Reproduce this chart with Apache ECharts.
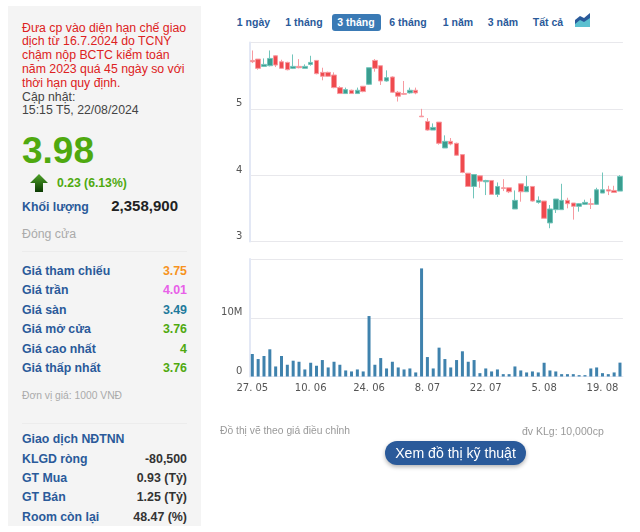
<!DOCTYPE html>
<html>

<head>
    <meta charset="utf-8">
    <script src="https://cdn.jsdelivr.net/npm/echarts@6/dist/echarts.min.js"></script>
    <style>
        html, body { margin: 0; padding: 0; background: #fff; }
        body { width: 640px; height: 532px; position: relative; overflow: hidden; font-family: "Liberation Sans", Arial, sans-serif; }
        #main { position: absolute; left: 0; top: 0; width: 640px; height: 532px; }
        #panel { position: absolute; left: 8px; top: 6px; width: 193px; height: 520px; background: #f4f4f4; }
        .t { position: absolute; white-space: nowrap; line-height: 14px; transform: translateY(-7px); }
        .lbl { left: 22px; font-size: 12.3px; font-weight: bold; color: #2a5a9a; }
        .val { right: 453px; font-size: 12.4px; font-weight: bold; }
        .red { left: 22px; font-size: 12.3px; color: #dd2222; }
        .gray { left: 22px; font-size: 12.3px; color: #444; }
        .tab { font-size: 10.5px; font-weight: bold; color: #2a5a9a; transform: translate(-50%, -7px); }
        .sep { position: absolute; left: 22px; width: 165px; height: 1px; background: #ececec; }
    </style>
</head>

<body>
    <div id="panel"></div>
    <div class="sep" style="top:251px"></div>
    <div class="sep" style="top:423px"></div>

    <div class="t red" style="top:28px">Đưa cp vào diện hạn chế giao</div>
    <div class="t red" style="top:41px">dịch từ 16.7.2024 do TCNY</div>
    <div class="t red" style="top:55px">chậm nộp BCTC kiểm toán</div>
    <div class="t red" style="top:69px">năm 2023 quá 45 ngày so với</div>
    <div class="t red" style="top:83px">thời hạn quy định.</div>
    <div class="t gray" style="top:97px">Cập nhật:</div>
    <div class="t gray" style="top:110px">15:15 T5, 22/08/2024</div>

    <div class="t" style="left:22px;top:151px;font-size:37px;font-weight:bold;color:#4fa90f">3.98</div>
    <svg style="position:absolute;left:30px;top:174px" width="18" height="18">
        <defs><linearGradient id="ag" x1="0" y1="0" x2="0" y2="1"><stop offset="0" stop-color="#4fa428"/><stop offset="1" stop-color="#0b3a02"/></linearGradient></defs>
        <polygon points="9,0 18,9 13,9 13,18 5,18 5,9 0,9" fill="url(#ag)"/>
    </svg>
    <div class="t" style="left:57px;top:183px;font-size:12.2px;font-weight:bold;color:#4fa90f">0.23 (6.13%)</div>
    <div class="t lbl" style="top:207px">Khối lượng</div>
    <div class="t val" style="top:206px;right:462px;font-size:15px;color:#222">2,358,900</div>
    <div class="t" style="left:22px;top:234px;font-size:12.3px;color:#aaa">Đóng cửa</div>

    <div class="t lbl" style="top:271px">Giá tham chiếu</div>
    <div class="t val" style="top:271px;color:#f7931e">3.75</div>
    <div class="t lbl" style="top:290px">Giá trần</div>
    <div class="t val" style="top:290px;color:#e860e8">4.01</div>
    <div class="t lbl" style="top:310px">Giá sàn</div>
    <div class="t val" style="top:310px;color:#1f7a9c">3.49</div>
    <div class="t lbl" style="top:329px">Giá mở cửa</div>
    <div class="t val" style="top:329px;color:#4fa90f">3.76</div>
    <div class="t lbl" style="top:349px">Giá cao nhất</div>
    <div class="t val" style="top:349px;color:#4fa90f">4</div>
    <div class="t lbl" style="top:368px">Giá thấp nhất</div>
    <div class="t val" style="top:368px;color:#4fa90f">3.76</div>
    <div class="t" style="left:22px;top:396px;font-size:10.3px;color:#aaa">Đơn vị giá: 1000 VNĐ</div>

    <div class="t lbl" style="top:439px">Giao dịch NĐTNN</div>
    <div class="t lbl" style="top:459px">KLGD ròng</div>
    <div class="t val" style="top:459px;color:#333">-80,500</div>
    <div class="t lbl" style="top:478px">GT Mua</div>
    <div class="t val" style="top:478px;color:#333">0.93 (Tỷ)</div>
    <div class="t lbl" style="top:497px">GT Bán</div>
    <div class="t val" style="top:497px;color:#333">1.25 (Tỷ)</div>
    <div class="t lbl" style="top:517px">Room còn lại</div>
    <div class="t val" style="top:517px;color:#333">48.47 (%)</div>

    <div style="position:absolute;left:332px;top:14px;width:49px;height:17px;border-radius:3px;background:#3a7ab5"></div>
    <div class="t tab" style="left:253.5px;top:22px">1 ngày</div>
    <div class="t tab" style="left:304px;top:22px">1 tháng</div>
    <div class="t tab" style="left:356px;top:22px;color:#fff">3 tháng</div>
    <div class="t tab" style="left:408px;top:22px">6 tháng</div>
    <div class="t tab" style="left:458px;top:22px">1 năm</div>
    <div class="t tab" style="left:503px;top:22px">3 năm</div>
    <div class="t tab" style="left:548px;top:22px">Tất cả</div>
    <svg style="position:absolute;left:575px;top:12px" width="16" height="15">
        <polygon points="0,8 5,4 9,6 15,1 15,15 0,15" fill="#2a5a9a"/>
        <polygon points="0,12 5,8 9,10 15,6 15,15 0,15" fill="#5bc0d0"/>
    </svg>

    <div id="main"></div>

    <div class="t" style="left:220px;top:431px;font-size:10.3px;color:#999">Đồ thị vẽ theo giá điều chỉnh</div>
    <div class="t" style="left:522px;top:431px;font-size:10.5px;color:#999">đv KLg: 10,000cp</div>
    <div style="position:absolute;left:385px;top:441px;width:141px;height:24px;line-height:24px;border-radius:12px;background:#2a5a9a;color:#fff;font-size:14.1px;text-align:center;box-shadow:0 2px 4px rgba(0,0,0,.3)">Xem đồ thị kỹ thuật</div>

    <script type="text/javascript">
        var dates = [
            '27. 05', '28. 05', '29. 05', '30. 05', '31. 05', '3. 06', '4. 06', '5. 06', '6. 06', '7. 06',
            '10. 06', '11. 06', '12. 06', '13. 06', '14. 06', '17. 06', '18. 06', '19. 06', '20. 06', '21. 06',
            '24. 06', '25. 06', '26. 06', '27. 06', '28. 06', '1. 07', '2. 07', '3. 07', '4. 07', '5. 07',
            '8. 07', '9. 07', '10. 07', '11. 07', '12. 07', '15. 07', '16. 07', '17. 07', '18. 07', '19. 07',
            '22. 07', '23. 07', '24. 07', '25. 07', '26. 07', '29. 07', '30. 07', '31. 07', '1. 08', '2. 08',
            '5. 08', '6. 08', '7. 08', '8. 08', '9. 08', '12. 08', '13. 08', '14. 08', '15. 08', '16. 08',
            '19. 08', '20. 08', '21. 08', '22. 08'
        ];
        var openVals = [
            5.73, 5.75, 5.64, 5.65, 5.80, 5.71, 5.70, 5.61, 5.64, 5.61,
            5.67, 5.73, 5.55, 5.55, 5.51, 5.32, 5.23, 5.28, 5.23, 5.34,
            5.37, 5.73, 5.65, 5.42, 5.48, 5.25, 5.23, 5.24, 5.28, 4.89,
            4.81, 4.68, 4.80, 4.41, 4.51, 4.48, 4.31, 4.03, 3.83, 3.99,
            3.90, 3.92, 3.71, 3.81, 3.81, 3.49, 3.87, 3.75, 3.83, 3.59,
            3.61, 3.28, 3.48, 3.48, 3.62, 3.58, 3.53, 3.56, 3.57, 3.56,
            3.73, 3.78, 3.77, 3.76
        ];
        var closeVals = [
            5.71, 5.61, 5.67, 5.76, 5.66, 5.61, 5.59, 5.64, 5.62, 5.64,
            5.70, 5.53, 5.49, 5.49, 5.32, 5.23, 5.29, 5.23, 5.28, 5.26,
            5.62, 5.61, 5.42, 5.47, 5.25, 5.19, 5.22, 5.28, 5.24, 4.88,
            4.68, 4.72, 4.48, 4.51, 4.47, 4.30, 4.04, 3.83, 4.01, 3.91,
            3.92, 3.71, 3.83, 3.80, 3.75, 3.62, 3.75, 3.83, 3.61, 3.62,
            3.35, 3.49, 3.64, 3.62, 3.57, 3.53, 3.57, 3.59, 3.56, 3.78,
            3.78, 3.76, 3.74, 3.98
        ];
        var lowVals = [
            5.69, 5.59, 5.63, 5.64, 5.63, 5.61, 5.58, 5.60, 5.61, 5.61,
            5.65, 5.52, 5.43, 5.48, 5.31, 5.23, 5.23, 5.23, 5.23, 5.25,
            5.36, 5.56, 5.36, 5.41, 5.24, 5.11, 5.21, 5.23, 5.22, 4.88,
            4.67, 4.68, 4.46, 4.41, 4.45, 4.29, 4.03, 3.83, 3.65, 3.81,
            3.70, 3.71, 3.67, 3.76, 3.73, 3.49, 3.60, 3.75, 3.60, 3.57,
            3.35, 3.20, 3.43, 3.48, 3.50, 3.33, 3.45, 3.55, 3.49, 3.55,
            3.73, 3.70, 3.74, 3.76
        ];
        var highVals = [
            5.88, 5.75, 5.76, 5.88, 5.81, 5.74, 5.71, 5.82, 5.75, 5.67,
            5.80, 5.73, 5.62, 5.56, 5.55, 5.34, 5.32, 5.29, 5.32, 5.34,
            5.62, 5.75, 5.65, 5.58, 5.49, 5.27, 5.42, 5.32, 5.32, 5.00,
            4.86, 4.78, 4.80, 4.60, 4.56, 4.49, 4.31, 4.03, 4.01, 4.00,
            3.93, 3.92, 3.89, 3.94, 3.81, 3.77, 3.87, 3.99, 3.83, 3.68,
            3.61, 3.55, 3.64, 3.87, 3.66, 3.58, 3.58, 3.63, 3.65, 3.81,
            4.04, 3.84, 3.84, 4.00
        ];
        // khoi luong, trieu cp
        var volumes = [
            3.83, 2.97, 3.49, 4.63, 1.71, 3.49, 2.00, 2.69, 2.51, 1.20,
            2.34, 1.83, 2.80, 1.54, 2.51, 2.00, 1.03, 0.86, 1.20, 0.86,
            10.29, 2.00, 3.14, 1.37, 2.51, 1.54, 1.20, 1.37, 0.69, 18.40,
            3.31, 1.37, 4.91, 2.97, 1.54, 2.80, 4.29, 2.51, 2.80, 0.57,
            1.37, 0.86, 1.20, 0.40, 0.40, 1.71, 1.03, 0.69, 0.86, 0.69,
            2.34, 1.03, 0.86, 0.40, 0.40, 0.40, 0.23, 0.23, 1.37, 1.54,
            0.57, 0.40, 0.69, 2.36
        ];
        var tickDates = ['27. 05', '10. 06', '24. 06', '8. 07', '22. 07', '5. 08', '19. 08'];

        var candles = [];
        for (var i = 0; i < dates.length; i++) {
            candles.push([openVals[i], closeVals[i], lowVals[i], highVals[i]]);
        }

        function isTick(index) {
            return tickDates.indexOf(dates[index]) >= 0;
        }

        var labelStyle = { color: '#555', fontSize: 10, fontFamily: 'DejaVu Sans' };

        var chart = echarts.init(document.getElementById('main'), null, { width: 640, height: 532 });

        chart.setOption({
            animation: false,
            backgroundColor: 'transparent',
            grid: [
                { left: 249.4, top: 42.5, width: 373.5, height: 199 },
                { left: 249.4, top: 259, width: 373.5, height: 117.5 }
            ],
            xAxis: [
                {
                    type: 'category',
                    gridIndex: 0,
                    data: dates,
                    axisLine: { show: false },
                    axisTick: { show: false },
                    axisLabel: { show: false },
                    splitLine: { show: false }
                },
                {
                    type: 'category',
                    gridIndex: 1,
                    data: dates,
                    axisLine: { lineStyle: { color: '#e3e8f5', width: 1 } },
                    axisTick: {
                        alignWithLabel: true,
                        length: 8,
                        interval: function (index) { return isTick(index); },
                        lineStyle: { color: '#ccd6eb' }
                    },
                    axisLabel: Object.assign({
                        margin: 7,
                        interval: function (index) { return isTick(index); }
                    }, labelStyle),
                    splitLine: { show: false }
                }
            ],
            yAxis: [
                {
                    type: 'value',
                    gridIndex: 0,
                    min: 3,
                    max: 6,
                    interval: 1,
                    axisLine: { show: true, lineStyle: { color: '#e3e8f5', width: 2 } },
                    axisTick: { show: false },
                    axisLabel: Object.assign({
                        showMaxLabel: false,
                        verticalAlign: 'bottom',
                        margin: 7
                    }, labelStyle),
                    splitLine: { lineStyle: { color: '#e8e8ec', width: 1 } }
                },
                {
                    type: 'value',
                    gridIndex: 1,
                    min: 0,
                    max: 20,
                    interval: 10,
                    axisLine: { show: true, lineStyle: { color: '#e3e8f5', width: 2 } },
                    axisTick: { show: false },
                    axisLabel: Object.assign({
                        showMaxLabel: false,
                        verticalAlign: 'bottom',
                        margin: 7,
                        formatter: function (v) { return v === 0 ? '0' : v + 'M'; }
                    }, labelStyle),
                    splitLine: { lineStyle: { color: '#e8e8ec', width: 1 } }
                }
            ],
            series: [
                {
                    type: 'candlestick',
                    xAxisIndex: 0,
                    yAxisIndex: 0,
                    barWidth: 5,
                    data: candles,
                    itemStyle: {
                        color: '#3a9d8f',
                        color0: '#ef4a4e',
                        borderColor: '#72c5bb',
                        borderColor0: '#f79aa0',
                        borderWidth: 1
                    }
                },
                {
                    type: 'bar',
                    xAxisIndex: 1,
                    yAxisIndex: 1,
                    barWidth: 3,
                    data: volumes,
                    itemStyle: { color: '#3f82ad' }
                }
            ]
        });
    </script>
</body>

</html>
